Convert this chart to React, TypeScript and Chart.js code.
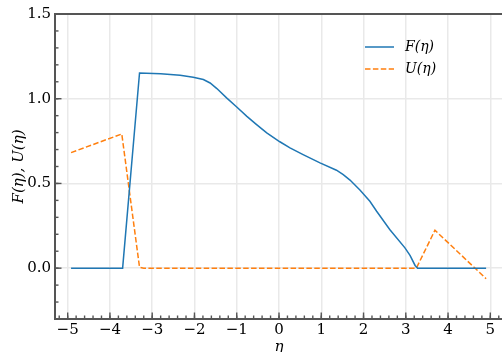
import React, { useEffect, useRef } from "react";
import { Chart, registerables } from "chart.js";

Chart.register(...registerables);

const etaF = [-4.92, -3.7, -3.3, -2.8, -2.34, -2.03, -1.79, -1.63, -1.47, -1.24, -1.0, -0.76, -0.53, -0.29, 0.02, 0.26, 0.57, 0.97, 1.36, 1.52, 1.68, 1.92, 2.15, 2.31, 2.62, 2.98, 3.1, 3.22, 3.28, 4.9];
const valF = [0, 0, 1.152, 1.148, 1.139, 1.127, 1.113, 1.093, 1.06, 1.005, 0.951, 0.896, 0.847, 0.798, 0.746, 0.71, 0.67, 0.621, 0.578, 0.552, 0.52, 0.46, 0.395, 0.336, 0.228, 0.12, 0.075, 0.016, 0, 0];
const etaU = [-4.92, -3.72, -3.3, -3.2, 3.25, 3.69, 4.9];
const valU = [0.682, 0.792, 0.005, 0, 0, 0.224, -0.062];

const xTicks = [-5, -4, -3, -2, -1, 0, 1, 2, 3, 4, 5];
const yTicks = [0, 0.5, 1.0, 1.5];
const xRange = [-5.3, 5.3];
const yRange = [-0.3, 1.5];
const seriesLabels = ["F(η)", "U(η)"];

const SPINE = "#555555";
const SERIF = "'DejaVu Serif', serif";

const framePlugin = {
  id: "frame",
  afterDraw(chart: any) {
    const { ctx, chartArea } = chart;
    const xs = chart.scales.x;
    const ys = chart.scales.y;
    ctx.save();
    ctx.strokeStyle = SPINE;
    ctx.lineWidth = 1.4;
    // minor ticks
    for (let v = -5.2; v <= 5.21; v += 0.2) {
      const px = xs.getPixelForValue(v);
      if (px <= chartArea.left + 1 || px >= chartArea.right - 1) continue;
      ctx.beginPath();
      ctx.moveTo(px, chartArea.bottom);
      ctx.lineTo(px, chartArea.bottom - 3.5);
      ctx.stroke();
    }
    for (let v = -0.2; v <= 1.45; v += 0.1) {
      const py = ys.getPixelForValue(v);
      ctx.beginPath();
      ctx.moveTo(chartArea.left, py);
      ctx.lineTo(chartArea.left + 3.5, py);
      ctx.stroke();
    }
    // major ticks
    xTicks.forEach((v) => {
      const px = xs.getPixelForValue(v);
      ctx.beginPath();
      ctx.moveTo(px, chartArea.bottom);
      ctx.lineTo(px, chartArea.bottom - 6.5);
      ctx.stroke();
    });
    yTicks.forEach((v) => {
      const py = ys.getPixelForValue(v);
      ctx.beginPath();
      ctx.moveTo(chartArea.left, py);
      ctx.lineTo(chartArea.left + 6.5, py);
      ctx.stroke();
    });
    // spines
    ctx.lineWidth = 2;
    ctx.beginPath();
    ctx.moveTo(chartArea.left, chartArea.top);
    ctx.lineTo(chartArea.right, chartArea.top);
    ctx.lineTo(chartArea.right, chartArea.bottom);
    ctx.lineTo(chartArea.left, chartArea.bottom);
    ctx.closePath();
    ctx.stroke();

    // legend
    const lx0 = 365, lx1 = 394, tx = 405;
    const rows = [47, 69];
    chart.data.datasets.forEach((ds: any, i: number) => {
      const y = rows[i];
      ctx.strokeStyle = ds.borderColor;
      ctx.lineWidth = ds.borderWidth;
      ctx.setLineDash(ds.borderDash || []);
      ctx.beginPath();
      ctx.moveTo(lx0, y);
      ctx.lineTo(lx1, y);
      ctx.stroke();
      ctx.setLineDash([]);
      ctx.fillStyle = "#000";
      ctx.font = "italic 14px " + SERIF;
      ctx.textBaseline = "middle";
      ctx.textAlign = "left";
      ctx.fillText(ds.label, tx, y);
    });
    ctx.restore();
  },
};

export default function App() {
  const ref = useRef<HTMLCanvasElement>(null);
  useEffect(() => {
    document.body.style.margin = "0";
    document.documentElement.style.overflow = "hidden";
    Chart.defaults.font.family = SERIF;
    const chart = new Chart(ref.current as HTMLCanvasElement, {
      type: "line",
      data: {
        datasets: [
          {
            label: seriesLabels[0],
            data: etaF.map((x, i) => ({ x, y: valF[i] })),
            borderColor: "#1f77b4",
            borderWidth: 1.5,
            pointRadius: 0,
            tension: 0,
            fill: false,
          },
          {
            label: seriesLabels[1],
            data: etaU.map((x, i) => ({ x, y: valU[i] })),
            borderColor: "#ff7f0e",
            borderWidth: 1.5,
            borderDash: [5.5, 2.4],
            pointRadius: 0,
            tension: 0,
            fill: false,
          },
        ],
      },
      options: {
        animation: false,
        responsive: false,
        devicePixelRatio: 1,
        layout: { padding: { left: 0, right: 2, top: 14, bottom: 0 } },
        plugins: { legend: { display: false }, tooltip: { enabled: false } },
        scales: {
          x: {
            type: "linear",
            min: xRange[0],
            max: xRange[1],
            afterBuildTicks: (s: any) => {
              s.ticks = xTicks.map((value) => ({ value }));
            },
            afterFit: (s: any) => {
              s.height = 33;
            },
            grid: { color: "#e9e9e9", lineWidth: 1.5, drawTicks: false },
            border: { display: false },
            ticks: {
              color: "#000",
              font: { size: 15 },
              padding: 2,
              maxRotation: 0,
              autoSkip: false,
              callback: (v: any) => (Number(v) < 0 ? "\u2212" + Math.abs(Number(v)) : String(v)),
            },
            title: {
              display: true,
              text: "η",
              color: "#000",
              font: { size: 15, style: "italic" },
              padding: { top: 0, bottom: -4 },
            },
          },
          y: {
            type: "linear",
            min: yRange[0],
            max: yRange[1],
            afterBuildTicks: (s: any) => {
              s.ticks = yTicks.map((value) => ({ value }));
            },
            afterFit: (s: any) => {
              s.width = 55;
            },
            grid: { color: "#e9e9e9", lineWidth: 1.5, drawTicks: false },
            border: { display: false },
            ticks: {
              color: "#000",
              font: { size: 15 },
              padding: 4,
              autoSkip: false,
              callback: (v: any) => Number(v).toFixed(1),
            },
            title: {
              display: true,
              text: "F(η), U(η)",
              color: "#000",
              font: { size: 15, style: "italic" },
              padding: { top: 10, bottom: 0 },
            },
          },
        },
      },
      plugins: [framePlugin],
    } as any);
    return () => chart.destroy();
  }, []);
  return (
    <div style={{ position: "fixed", left: 0, top: 0, width: 505, height: 352 }}>
      <canvas ref={ref} width={505} height={352} style={{ width: 505, height: 352 }} />
    </div>
  );
}
